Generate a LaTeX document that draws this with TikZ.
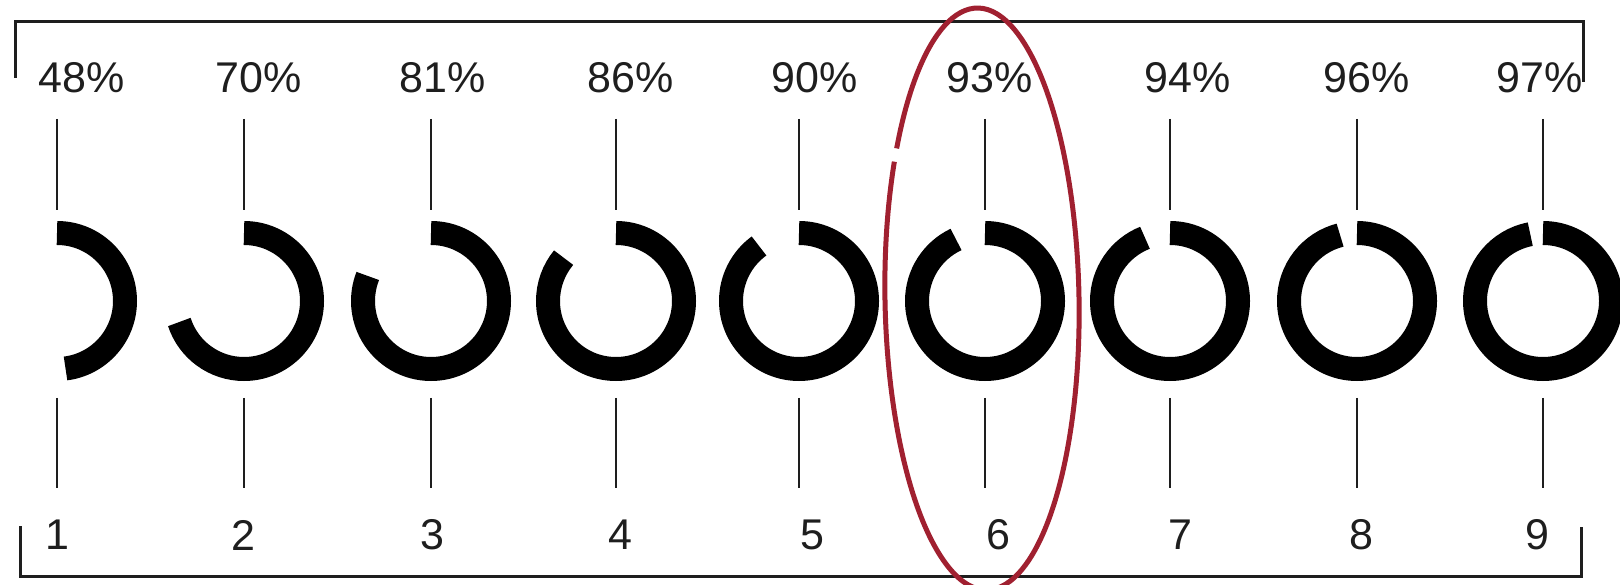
\documentclass[tikz,border=0pt]{standalone}
\usepackage{fontspec}
\setmainfont{Liberation Sans}
\definecolor{penred}{RGB}{160,32,48}
\definecolor{ink}{RGB}{30,30,30}
\newcommand\pctfont{\fontsize{43}{47}\selectfont}
\begin{document}
\begin{tikzpicture}[x=1pt,y=1pt,
  ringarc/.style={line width=24pt, line cap=butt, black},
  stem/.style={line width=2.4pt, ink},
  frame/.style={line width=3pt, ink},
  pct/.style={font=\pctfont, inner sep=0pt, text=ink},
  num/.style={font=\pctfont, inner sep=0pt, text=ink},
  halo/.style={line width=5pt, penred}]
\useasboundingbox (0,0) rectangle (1620,584);
\fill[white] (0,0) rectangle (1620,584);

% top bracket
\coordinate (tl) at (15,506);
\coordinate (tlc) at (15,562);
\coordinate (trc) at (1583,562);
\coordinate (tr) at (1583,502);
\draw[frame] (tl) -- (tlc) -- (trc) -- (tr);
% bottom bracket
\coordinate (bl) at (20,58);
\coordinate (blc) at (20,8);
\coordinate (brc) at (1581,8);
\coordinate (br) at (1581,57);
\draw[frame] (bl) -- (blc) -- (brc) -- (br);

\foreach \i/\x/\p/\lx/\nx in {1/57/48/82/57, 2/244/70/259/243, 3/431/81/443/432,
  4/616/86/631/620, 5/799/90/815/812, 6/985/93/990/998,
  7/1170/94/1188/1180, 8/1357/96/1367/1361, 9/1543/97/1540/1537}{
  \coordinate (ring\i) at (\x,283);
  \draw[ringarc] ([shift={(90:68pt)}]ring\i) arc[start angle=90, delta angle={-3.6*\p}, radius=68pt];
  \node[pct] (lab\i) at (\lx,506) {\p\%};
  \node[num] (num\i) at (\nx,49) {\i};
  \coordinate (ta\i) at (\x,465);
  \coordinate (tb\i) at (\x,374);
  \coordinate (ba\i) at (\x,186);
  \coordinate (bb\i) at (\x,96);
  \draw[stem] (ta\i) -- (tb\i);
  \draw[stem] (ba\i) -- (bb\i);
}

% red ellipse around ring 6 (hand-drawn, tiny break at upper left)
\coordinate (ec) at (982,285);
\draw[halo, rotate around={1:(ec)}] ([shift={(151.5:97pt and 291pt)}]ec) arc[start angle=151.5, end angle=508.5, x radius=97pt, y radius=291pt];
\end{tikzpicture}
\end{document}
